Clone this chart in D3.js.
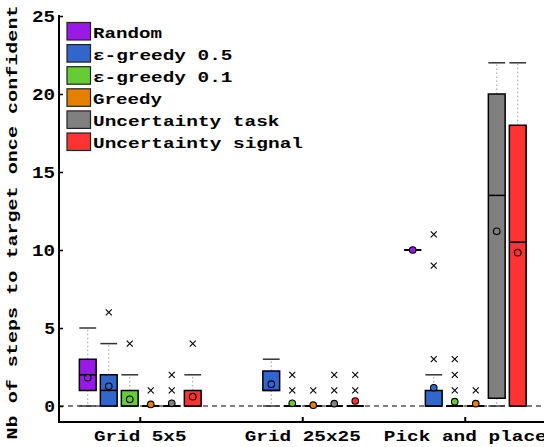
<!DOCTYPE html>
<html><head><meta charset="utf-8">
<script src="https://cdn.jsdelivr.net/npm/d3@7"></script>
<style>body{margin:0;background:#fff}svg{display:block}</style>
</head><body>
<script>
const groups = ["Grid 5x5", "Grid 25x25", "Pick and place"];
const methods = ["Random", "ε-greedy 0.5", "ε-greedy 0.1", "Greedy", "Uncertainty task", "Uncertainty signal"];
const colors = ["#991ae6", "#3366cc", "#66cc33", "#e68000", "#808080", "#ff3333"];
const yTicks = [0, 5, 10, 15, 20, 25];
// stats per group (rows) per method (columns)
const q1 = [[1,0,0,0,0,0],[null,1,0,0,0,0],[10,0,0,0,0.5,0]];
const median = [[2,1,0,0,0,0],[null,1,0,0,0,0],[10,0,0,0,13.5,10.5]];
const q3 = [[3,2,1,0,0,1],[null,2.25,0,0,0,0],[10,1,0,0,20,18]];
const whiskerLow = [[0,0,0,0,0,0],[null,0,0,0,0,0],[10,0,0,0,0,0]];
const whiskerHigh = [[5,4,2,0,0,2],[null,3,0,0,0,0],[10,2,0,0,22,22]];
const means = [[1.81,1.26,0.43,0.1,0.17,0.6],[null,1.4,0.17,0.05,0.15,0.32],[10,1.17,0.28,0.15,11.2,9.83]];
const outliers = [[[],[6],[4],[1],[1,2],[4]],[[],[],[1,2],[1],[1,2],[1,2]],[[],[3,9,11],[1,2,3],[1],[],[]]];

const W = 544, H = 447;
const FONT = "'Liberation Mono', 'Courier New', monospace";
const CW = 11.75;
const svg = d3.select("body").append("svg").attr("width", W).attr("height", H);

const x0 = d3.scaleBand().domain(groups).range([59, 546.5]).padding(0);
const x1 = d3.scaleBand().domain(methods).range([-65.1, 65.1]).padding(0.2);
const y = d3.scaleLinear().domain([-1, 25]).range([421.6, 16]);

function txt(sel, s) {
  sel.text(s).attr("font-family", FONT).attr("font-weight", "bold").attr("font-size", 15.5)
    .attr("textLength", s.length * CW - 1.5).attr("lengthAdjust", "spacingAndGlyphs");
  return sel;
}

// zero dashed line
svg.append("line").attr("x1", 59).attr("x2", W).attr("y1", y(0)).attr("y2", y(0))
  .attr("stroke", "#000").attr("stroke-width", 1).attr("stroke-dasharray", "5,4");

groups.forEach((g, gi) => {
  methods.forEach((m, mi) => {
    if (q1[gi][mi] === null) return;
    const cx = x0(g) + x0.bandwidth() / 2 + x1(m) + x1.bandwidth() / 2;
    const bw = x1.bandwidth();
    const gg = svg.append("g");
    // whiskers
    const lo = whiskerLow[gi][mi], hi = whiskerHigh[gi][mi];
    if (hi > q3[gi][mi]) gg.append("line").attr("x1", cx).attr("x2", cx).attr("y1", y(q3[gi][mi])).attr("y2", y(hi))
      .attr("stroke", "#999").attr("stroke-dasharray", "1.5,2.5");
    if (lo < q1[gi][mi]) gg.append("line").attr("x1", cx).attr("x2", cx).attr("y1", y(q1[gi][mi])).attr("y2", y(lo))
      .attr("stroke", "#999").attr("stroke-dasharray", "1.5,2.5");
    [lo, hi].forEach(v => gg.append("line").attr("x1", cx - bw / 2).attr("x2", cx + bw / 2)
      .attr("y1", y(v)).attr("y2", y(v)).attr("stroke", "#333").attr("stroke-width", 1.5));
    // box
    const yt = y(q3[gi][mi]), yb = y(q1[gi][mi]);
    gg.append("path").attr("d", `M${cx - bw / 2},${yb}L${cx - bw / 2},${yt}L${cx + bw / 2},${yt}L${cx + bw / 2},${yb}Z`)
      .attr("fill", colors[mi]).attr("stroke", "#000").attr("stroke-width", 1.5);
    gg.append("line").attr("x1", cx - bw / 2).attr("x2", cx + bw / 2)
      .attr("y1", y(median[gi][mi])).attr("y2", y(median[gi][mi])).attr("stroke", "#000").attr("stroke-width", 1.5);
    // outliers
    outliers[gi][mi].forEach(v => {
      const oy = y(v), s = 3;
      gg.append("path").attr("d", `M${cx - s},${oy - s}L${cx + s},${oy + s}M${cx - s},${oy + s}L${cx + s},${oy - s}`)
        .attr("stroke", "#000").attr("stroke-width", 1.1).attr("fill", "none");
    });
    // mean
    gg.append("circle").attr("cx", cx).attr("cy", y(means[gi][mi])).attr("r", 3.3)
      .attr("fill", colors[mi]).attr("stroke", "#000").attr("stroke-width", 1.1);
  });
});

// axes
const yAxis = d3.axisLeft(y).tickValues(yTicks).tickSizeInner(-4).tickSizeOuter(0).tickFormat(d3.format("d"));
const ya = svg.append("g").attr("transform", "translate(59,0)").call(yAxis);
ya.select(".domain").remove();
ya.selectAll(".tick line").attr("stroke", "#000").attr("stroke-width", 1.5);
ya.selectAll(".tick text").each(function(d) {
  const s = String(d);
  d3.select(this).attr("x", -4).attr("dy", "0.36em").attr("fill", "#000").attr("text-anchor", "end");
  txt(d3.select(this), s).attr("font-size", 16.5).attr("textLength", s.length * 12.3 - 1.5);
});
svg.append("line").attr("x1", 59).attr("x2", 59).attr("y1", 15).attr("y2", 423).attr("stroke", "#000").attr("stroke-width", 2);

const xAxis = d3.axisBottom(x0).tickSizeInner(-5).tickSizeOuter(0);
const xa = svg.append("g").attr("transform", "translate(0,422)").call(xAxis);
xa.select(".domain").remove();
xa.selectAll(".tick line").attr("stroke", "#000").attr("stroke-width", 2);
xa.selectAll(".tick text").each(function(d) {
  d3.select(this).attr("y", 0).attr("dy", 0).attr("transform", "translate(0,19)").attr("fill", "#000");
  txt(d3.select(this), d);
});
svg.append("line").attr("x1", 58).attr("x2", W).attr("y1", 422).attr("y2", 422).attr("stroke", "#000").attr("stroke-width", 2);

// y label
const yl = "Nb of steps to target once confident";
txt(svg.append("text").attr("transform", "translate(17,222.5) rotate(-90)").attr("text-anchor", "middle").attr("fill", "#000"), yl)
  .attr("textLength", yl.length * 12.1 - 1.5);

// legend
const leg = svg.append("g");
methods.forEach((m, i) => {
  const top = 22.5 + i * 22.1;
  leg.append("rect").attr("x", 67).attr("y", top).attr("width", 23.5).attr("height", 17.5)
    .attr("fill", colors[i]).attr("stroke", "#222").attr("stroke-width", 1.2);
  txt(leg.append("text").attr("x", 93).attr("y", top + 15).attr("fill", "#000"), m);
});
</script>
</body></html>
